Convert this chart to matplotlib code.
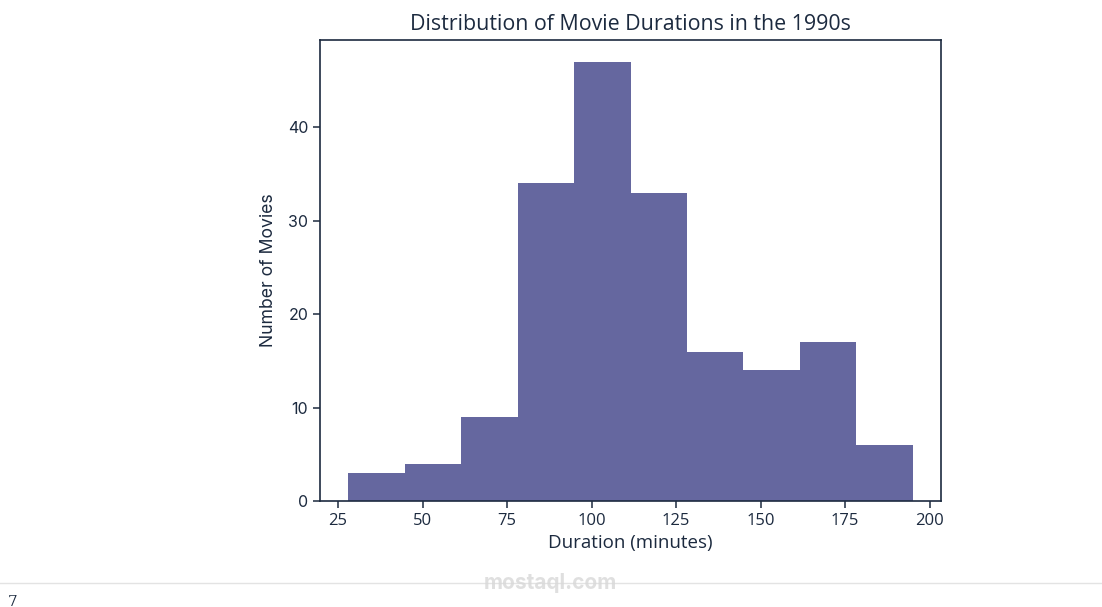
import numpy as np
import matplotlib
matplotlib.use("Agg")
import matplotlib.pyplot as plt

# Data
bin_edges = [28.0, 44.7, 61.4, 78.1, 94.8, 111.5, 128.2, 144.9, 161.6, 178.3, 195.0]
counts = [3, 4, 9, 34, 47, 33, 16, 14, 17, 6]
x_ticks = [25, 50, 75, 100, 125, 150, 175, 200]
y_ticks = [0, 10, 20, 30, 40]
title = "Distribution of Movie Durations in the 1990s"
xlabel = "Duration (minutes)"
ylabel = "Number of Movies"

navy = "#1c2a3f"
bar_color = "#65679f"

fig = plt.figure(figsize=(11.02, 6.07), dpi=100)
ax = fig.add_axes([320/1102, 1 - 501/607, (941-320)/1102, (501-40)/607])

ax.hist(bin_edges[:-1], bins=bin_edges, weights=counts, color=bar_color)

ax.set_xticks(x_ticks)
ax.set_yticks(y_ticks)
for s in ax.spines.values():
    s.set_color(navy)
    s.set_linewidth(1.2)
ax.tick_params(colors=navy, length=5, width=1.1, labelsize=11.5)
ax.tick_params(axis="x", labelsize=12)
for lab in ax.get_xticklabels():
    lab.set_fontfamily("Open Sans")
for lab in ax.get_yticklabels():
    lab.set_fontfamily("Inter")

ax.set_title(title, fontsize=15.4, color=navy, family="Open Sans", pad=7)
ax.set_xlabel(xlabel, fontsize=13.5, color=navy, family="Open Sans", labelpad=4)
ax.set_ylabel(ylabel, fontsize=12.7, color=navy, family="Inter", labelpad=8)

# page decoration
fig.add_artist(plt.Line2D([0, 1], [1 - 583/607, 1 - 583/607], color="#e3e3e3", lw=1))
fig.text(550/1102, 1 - 583/607, "mostaql.com", ha="center", va="center",
         fontsize=15, color="#d8d8d8", family="Inter", fontweight="bold", alpha=0.8)
fig.text(8/1102, 1 - 609/607, "7", ha="left", va="bottom", fontsize=11, color=navy, family="DejaVu Serif")

fig.savefig("out.png", dpi=100)
